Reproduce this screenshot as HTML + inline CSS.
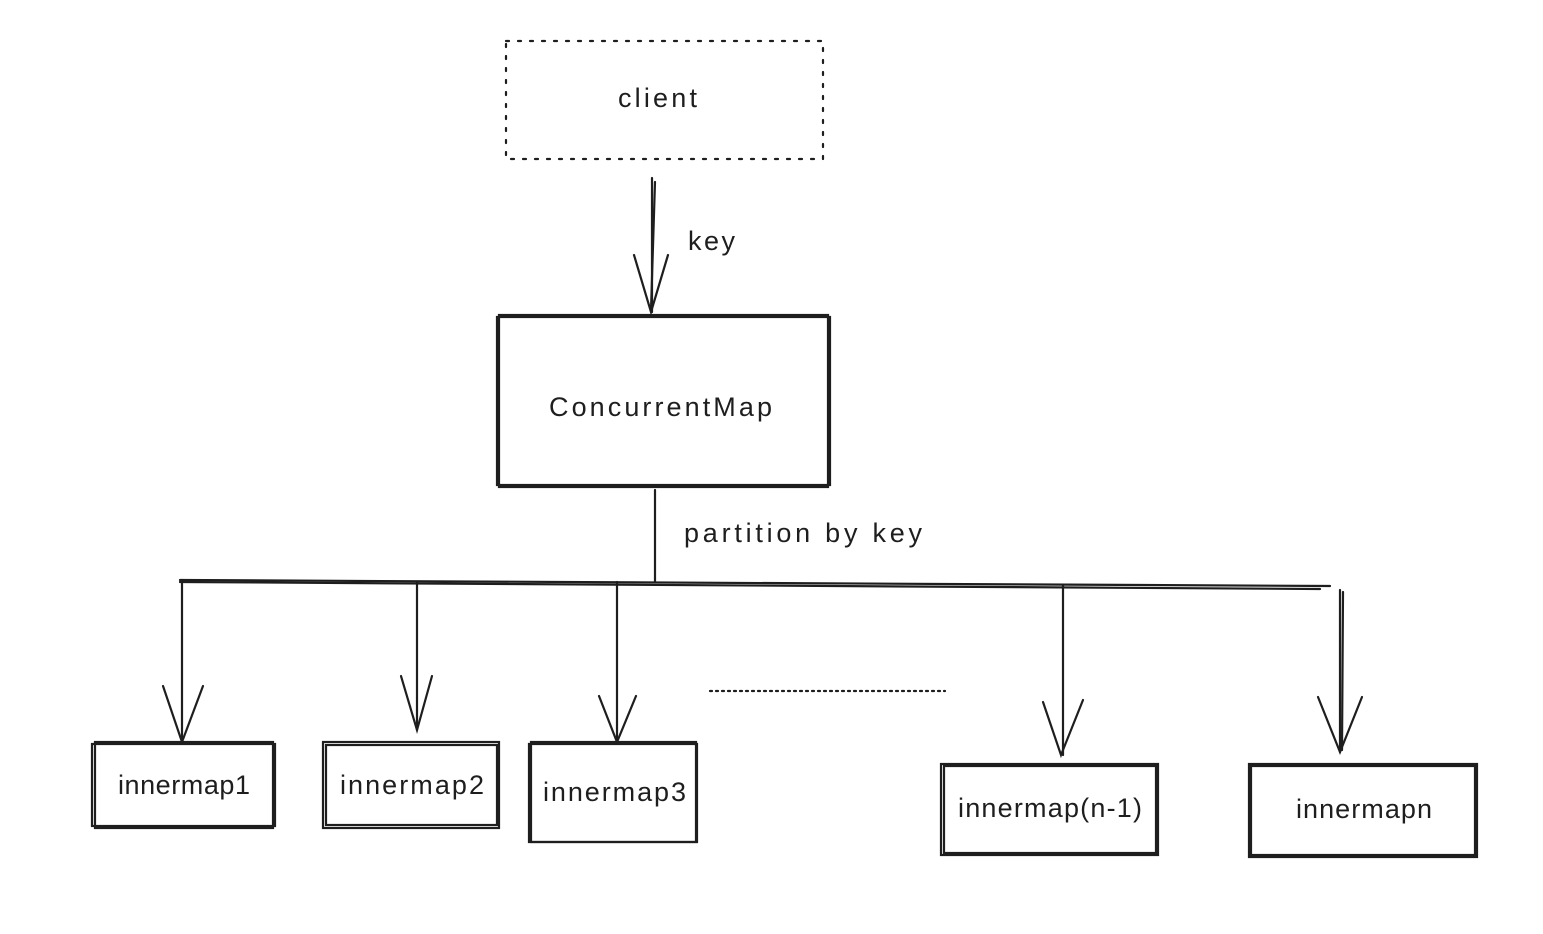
<!DOCTYPE html>
<html><head><meta charset="utf-8"><style>
html,body{margin:0;padding:0;background:#fff;}
svg text{font-family:"Liberation Sans",sans-serif;fill:#1e1e1e;}
</style></head><body>
<svg width="1543" height="929" viewBox="0 0 1543 929" xmlns="http://www.w3.org/2000/svg">
<g fill="none" stroke="#1e1e1e" stroke-width="2.2" stroke-linecap="round">
<rect x="506" y="41" width="317" height="118" stroke-dasharray="3,9"/>
<line x1="652" y1="178" x2="652" y2="312"/>
<line x1="655" y1="182" x2="651" y2="310"/>
<polyline points="634,255 651,312 668,255"/>
<rect x="497" y="317" width="333" height="168"/>
<rect x="499" y="315" width="329" height="172"/>
<line x1="655" y1="490" x2="655" y2="582"/>
<line x1="180" y1="580" x2="1330" y2="586"/>
<line x1="180" y1="582" x2="1320" y2="589"/>
<line x1="182" y1="580" x2="182" y2="742"/>
<polyline points="163,686 182,742 203,686"/>
<line x1="417" y1="582" x2="417" y2="730"/>
<polyline points="401,676 417,730 432,676"/>
<line x1="617" y1="582" x2="617" y2="742"/>
<polyline points="599,696 617,742 636,696"/>
<line x1="1063" y1="585" x2="1063" y2="755"/>
<polyline points="1043,702 1061,755 1083,700"/>
<line x1="1340" y1="590" x2="1340" y2="752"/>
<line x1="1343" y1="592" x2="1342" y2="750"/>
<polyline points="1318,697 1340,752 1362,697"/>
<line x1="710" y1="691" x2="945" y2="691" stroke-dasharray="2,4"/>
<rect x="92" y="744" width="183" height="82"/><rect x="95" y="742" width="178" height="86"/>
<rect x="323" y="742" width="176" height="86"/><rect x="326" y="745" width="171" height="80"/>
<rect x="529" y="744" width="168" height="98"/><rect x="531" y="742" width="165" height="100"/>
<rect x="941" y="764" width="217" height="91"/><rect x="944" y="766" width="212" height="87"/>
<rect x="1249" y="764" width="228" height="93"/><rect x="1251" y="766" width="224" height="89"/>
</g>
<g font-size="27" lengthAdjust="spacing">
<text x="618" y="107" textLength="79" lengthAdjust="spacing">client</text>
<text x="549" y="416" textLength="223" lengthAdjust="spacing">ConcurrentMap</text>
<text x="118" y="794" textLength="132" lengthAdjust="spacing">innermap1</text>
<text x="340" y="794" textLength="144" lengthAdjust="spacing">innermap2</text>
<text x="543" y="801" textLength="143" lengthAdjust="spacing">innermap3</text>
<text x="958" y="817" textLength="184" lengthAdjust="spacing">innermap(n-1)</text>
<text x="1296" y="818" textLength="136" lengthAdjust="spacing">innermapn</text>
<text x="688" y="250" textLength="47" lengthAdjust="spacing">key</text>
<text x="684" y="542" textLength="238" lengthAdjust="spacing">partition by key</text>
</g>
</svg>
</body></html>
